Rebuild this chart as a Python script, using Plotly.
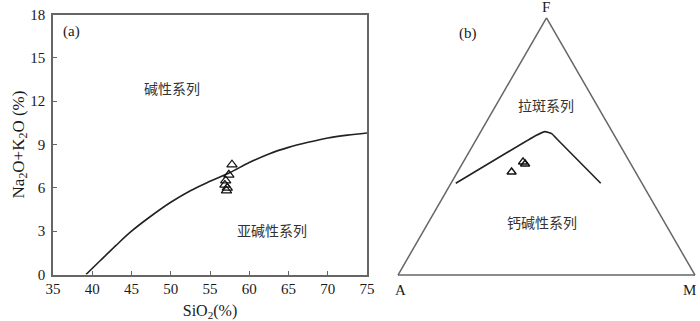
import plotly.graph_objects as go

# (a) SiO2 vs Na2O+K2O, boundary curve
curve_sio2 = [39.2, 41, 43, 45, 47.5, 50, 52.5, 55, 57.5, 60, 62.5, 65, 67.5, 70, 72.5, 75]
curve_alk = [0.0, 0.95, 2.0, 3.0, 4.05, 5.0, 5.8, 6.45, 7.05, 7.75, 8.35, 8.8, 9.15, 9.45, 9.65, 9.8]

samples_sio2 = [57.8, 57.4, 57.0, 56.9, 57.2, 57.1]
samples_alk = [7.6, 6.9, 6.5, 6.2, 6.0, 5.8]

# (b) AFM diagram: a = F, b = A, c = M
afm_line_f = [0.357, 0.543, 0.558, 0.549, 0.525, 0.357]
afm_line_a = [0.627, 0.264, 0.226, 0.207, 0.199, 0.139]
afm_line_m = [0.016, 0.193, 0.216, 0.244, 0.276, 0.504]

afm_f = [0.401, 0.440, 0.432]
afm_a = [0.417, 0.359, 0.356]
afm_m = [0.182, 0.201, 0.212]

serif = "Liberation Serif, Times New Roman, serif"
cjk = "Noto Sans CJK SC"
W, H = 700, 321

fig = go.Figure()

fig.add_trace(go.Scatter(x=curve_sio2, y=curve_alk, mode="lines",
                         line=dict(color="#222", width=1.6, shape="spline"),
                         showlegend=False, hoverinfo="skip"))
fig.add_trace(go.Scatter(x=samples_sio2, y=samples_alk, mode="markers",
                         marker=dict(symbol="triangle-up-open", size=9, color="#111",
                                     line=dict(width=1.2)),
                         showlegend=False))

fig.add_trace(go.Scatterternary(a=afm_line_f, b=afm_line_a, c=afm_line_m, mode="lines",
                                line=dict(color="#222", width=1.6, shape="spline", smoothing=0.3),
                                showlegend=False, hoverinfo="skip"))
fig.add_trace(go.Scatterternary(a=afm_f, b=afm_a, c=afm_m, mode="markers",
                                marker=dict(symbol="triangle-up-open", size=8, color="#111",
                                            line=dict(width=1.4)),
                                showlegend=False))

px_l, px_r, px_t, px_b = 53, 367, 14.5, 274.5
tri_l, tri_r, tri_top, tri_bot = 398, 695, 18, 275
cx = (tri_l + tri_r) / 2
cy = (tri_top + tri_bot) / 2
tw = tri_r - tri_l

axis_common = dict(showgrid=False, zeroline=False, showline=True, linecolor="#666",
                   linewidth=1.5, mirror=True, ticks="inside", ticklen=4, tickcolor="#666",
                   automargin=False,
                   tickfont=dict(family=serif, size=15, color="#1a1a1a"))
tern_axis = dict(showticklabels=False, ticks="", showgrid=False, linecolor="#666", linewidth=1.5,
                 title=dict(text=""))

fig.update_layout(
    width=W, height=H,
    margin=dict(l=0, r=0, t=0, b=0, autoexpand=False),
    paper_bgcolor="white", plot_bgcolor="white",
    xaxis=dict(domain=[px_l / W, px_r / W], range=[35, 75], tickvals=list(range(35, 80, 5)),
               title=dict(text="SiO<sub>2</sub>(%)", font=dict(family=serif, size=16, color="#1a1a1a"),
                          standoff=9),
               **axis_common),
    yaxis=dict(domain=[1 - px_b / H, 1 - px_t / H], range=[0, 18], tickvals=list(range(0, 19, 3)),
               ticklabelstandoff=3,
               title=dict(text="Na<sub>2</sub>O+K<sub>2</sub>O (%)",
                          font=dict(family=serif, size=17, color="#1a1a1a"), standoff=0),
               **axis_common),
    ternary=dict(
        domain=dict(x=[(cx - tw / 2) / W, (cx + tw / 2) / W],
                    y=[1 - (cy + 140) / H, 1 - (cy - 140) / H]),
        bgcolor="white",
        sum=1,
        aaxis=tern_axis, baxis=tern_axis, caxis=tern_axis,
    ),
)

ann_font = dict(family=cjk, size=14, color="#333")
lab_font = dict(family=serif, size=15, color="#1a1a1a")
centered = dict(showarrow=False, xanchor="center", yanchor="middle")
fig.add_annotation(x=37.4, y=16.8, xref="x", yref="y", text="(a)", font=lab_font, **centered)
fig.add_annotation(x=50.2, y=12.9, xref="x", yref="y", text="碱性系列", font=ann_font, **centered)
fig.add_annotation(x=62.9, y=3.1, xref="x", yref="y", text="亚碱性系列", font=ann_font, **centered)

paper_text = [
    ("(b)", 468, 33, lab_font),
    ("拉斑系列", 546, 105, ann_font),
    ("钙碱性系列", 542, 222, ann_font),
    ("F", 546, 7, lab_font),
    ("A", 400, 290, lab_font),
    ("M", 689, 290, lab_font),
]
for txt, x, y, f in paper_text:
    fig.add_annotation(x=x / W, y=1 - y / H, xref="paper", yref="paper", text=txt,
                       font=f, **centered)

# page body has a default 8px margin; drop it so the figure fills the window
fig.write_html("out.html", config={"displayModeBar": False},
               post_script="document.body.style.margin='0';")
